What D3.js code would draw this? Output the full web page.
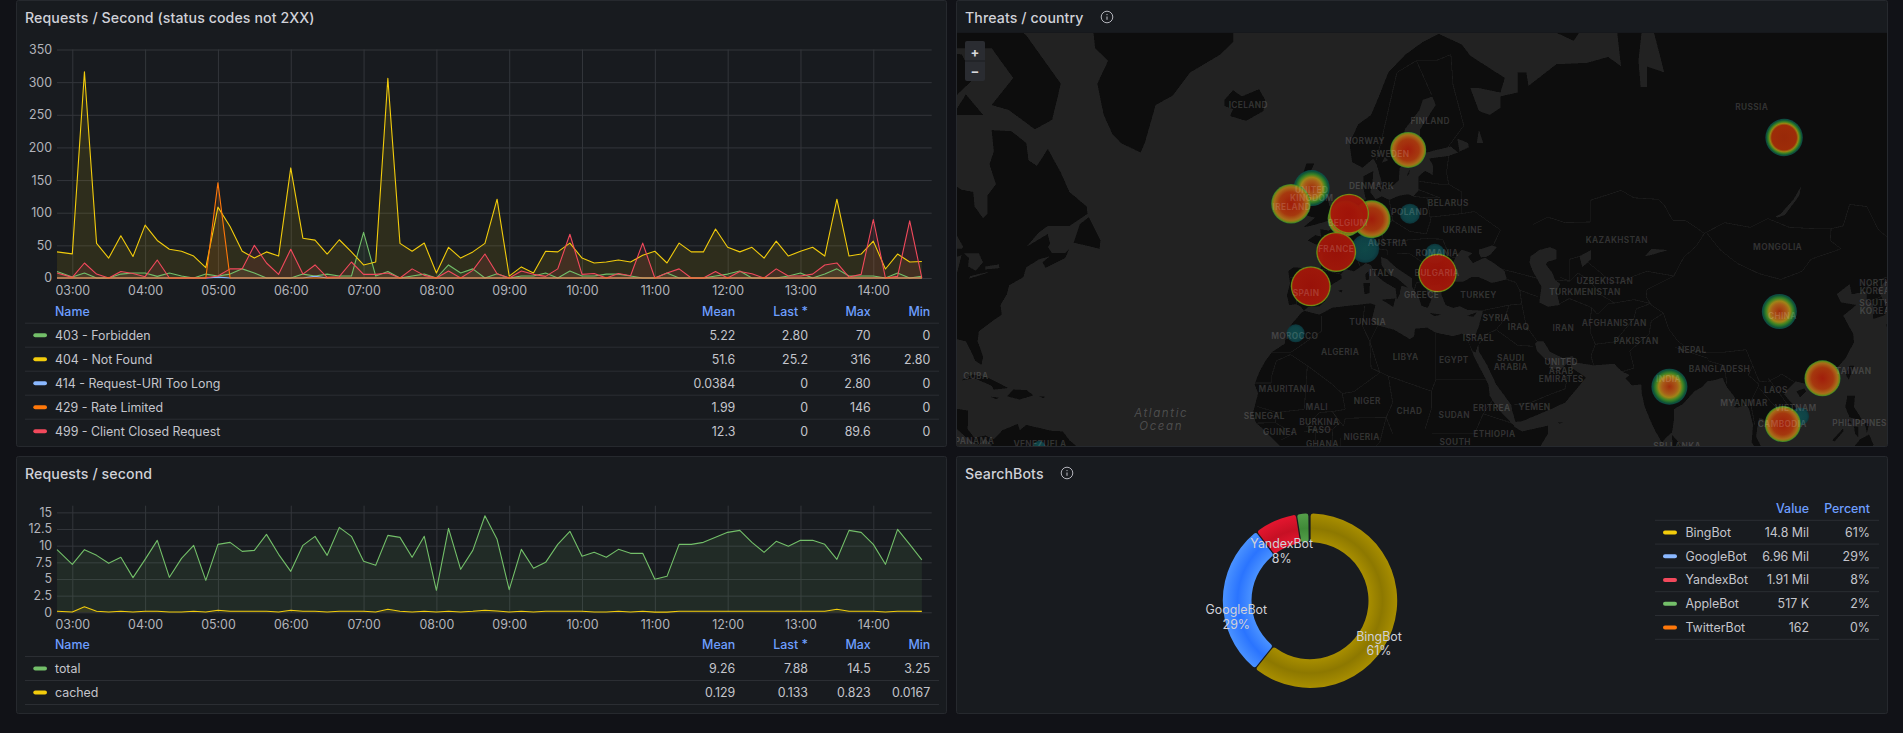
<!DOCTYPE html>
<html>
<head>
<meta charset="utf-8">
<script src="https://cdn.jsdelivr.net/npm/d3@7"></script>
<style>
  html, body { margin: 0; padding: 0; background: #111217; overflow: hidden; }
  svg { display: block; font-family: Inter, "Noto Sans", sans-serif; }
  .title { fill: #d0d1d8; font-size: 14.15px; font-weight: 500; letter-spacing: .1px; }
  .tick text { fill: #b3b4bb; font-size: 12.4px; font-family: Inter, sans-serif; }
  .grid .domain { display: none; }
  .grid line { stroke: #33363b; stroke-width: 1; }
  .lg { fill: #c4c5cc; font-size: 12.4px; }
  .lgh { fill: #6e9fff; font-size: 12.4px; font-weight: 500; }
  .mapl { fill: #fff; fill-opacity: .16; font-size: 8.3px; font-weight: 700; letter-spacing: .35px; text-anchor: middle; }
</style>
</head>
<body>
<svg id="dash" width="1903" height="733"></svg>
<script>
// ---- Requests / Second (status codes not 2XX) ----
var errNames = ["403 - Forbidden", "404 - Not Found", "414 - Request-URI Too Long", "429 - Rate Limited", "499 - Client Closed Request"];
var errColors = ["#73BF69", "#F2CC0C", "#8AB8FF", "#FF780A", "#F2495C"];
var errMean = ["5.22", "51.6", "0.0384", "1.99", "12.3"];
var errLast = ["2.80", "25.2", "0", "0", "0"];
var errMax = ["70", "316", "2.80", "146", "89.6"];
var errMin = ["0", "2.80", "0", "0", "0"];

var s403 = [10,1.5,7.6,0,0,6,7.6,7.6,2.5,7.6,3,0,6,3,6,14,7.6,0,0,0,6,3,6,3,3,70,3,10,0,3,6,0,20,7.6,14,0,6.6,0,3,3,7.6,0,10.7,3,3,6,6,3,0,0,7.6,0,0,0,3,6,10.7,0,0,0,3,7.6,0,6,14,3,3,3,0,7.6,0,2.8];
var s404 = [40,37,316,53,30.5,64.7,33,81,57.5,44,41,33.6,16,108.5,79,41,30.5,40,33.6,168.6,61,58,36.7,58.6,40,20,24.5,306,53,41,53.5,7.6,47,30.5,40,53,120.7,2.8,17,7.6,41,40,53.5,30.5,23,24.5,27.5,24.5,35,41,23,53.5,40,40,75,47,40,47,30.5,56.5,33.6,41,47,33.6,120.7,33.6,36.7,56.5,13.8,36.7,24.5,25.2];
var s414 = [0,0,0,0,0,0,0,0,0,0,0,0,0,1.4,0,0,0,0,0,0,0,2.8,0,0,0,0,0,0,0,0,0,0,0,0,0,0,0,0,0,0,0,0,0,0,0,0,0,0,0,0,0,0,0,0,0,0,0,0,0,0,0,0,0,0,0,0,0,0,0,0,0,0];
var s429 = [0,0,0,0,0,0,0,0,0,0,0,0,0,146,0,0,0,0,0,0,0,0,0,0,0,0,0,0,0,0,0,0,0,0,0,0,0,0,0,0,0,0,0,0,0,0,0,0,0,0,0,0,0,0,0,0,0,0,0,0,0,0,0,0,0,0,0,0,0,0,0,0];
var s499 = [7.6,1,23,6,0,10,7,2,27.5,0,0,0,0,3,14,14,50,23,5.6,44,6,20,1,2,24.5,5.6,5.6,7.6,0,14,4,0,10.7,0,11.7,36.7,6.6,0,10.7,5.6,2.5,14,67,5.6,7,0,7,3.5,53.5,0,7.6,14,0,0,10,0,10,6.6,0,14,3,3,6,20,23,1.5,5.6,89.6,0,2.5,87.6,0];

// ---- Requests / second ----
var reqNames = ["total", "cached"];
var reqColors = ["#73BF69", "#F2CC0C"];
var reqMean = ["9.26", "0.129"];
var reqLast = ["7.88", "0.133"];
var reqMax = ["14.5", "0.823"];
var reqMin = ["3.25", "0.0167"];
var sTotal = [9.4,7.2,9.4,8.55,7.35,8.25,5.2,7.95,10.8,5.25,8.1,10.05,4.8,10.2,10.5,9.15,9.3,11.7,8.7,6.15,10.05,11.4,8.55,12.75,11.4,7.65,7.05,11.55,11.25,8.25,11.4,3.3,12.6,6.45,9.3,14.5,10.95,3.4,9.45,6.6,7.5,10.2,12.15,8.4,9,8.25,9.45,8.85,8.85,4.95,5.4,10.2,10.2,10.5,11.25,12,12.3,10.5,9,10.65,9.9,10.8,10.8,10.2,7.95,12.3,12,10.2,7.2,12.45,10.2,7.88];
var sCached = [.15,.05,.82,.15,.05,.15,.05,.15,.15,.05,.05,.15,.05,.3,.15,.15,.15,.15,.05,.3,.15,.15,.05,.15,.15,.15,.05,.45,.15,.05,.15,.05,.15,.05,.15,.3,.2,.05,.15,.05,.15,.15,.15,.15,.05,.05,.15,.05,.15,.02,.02,.15,.15,.15,.15,.15,.15,.15,.15,.15,.15,.15,.15,.15,.45,.15,.15,.15,.05,.15,.15,.133];

// shared time axis: first sample, then one every ten minutes
var sampleTimes = [new Date(2024, 0, 1, 2, 47, 24)].concat(d3.timeMinute.range(new Date(2024, 0, 1, 3, 0), new Date(2024, 0, 1, 14, 41), 10));
var hourTicks = d3.timeHour.range(new Date(2024, 0, 1, 3), new Date(2024, 0, 1, 15));

// ---- SearchBots ----
var botNames = ["BingBot", "GoogleBot", "YandexBot", "AppleBot", "TwitterBot"];
var botValues = [14800000, 6960000, 1910000, 517000, 162];
var botLabels = ["14.8 Mil", "6.96 Mil", "1.91 Mil", "517 K", "162"];
var botPercents = ["61%", "29%", "8%", "2%", "0%"];
var botLegendColors = ["#F2CC0C", "#8AB8FF", "#F2495C", "#73BF69", "#FF780A"];
var botSliceEdge = ["#a88e00", "#4a92ff", "#e4162f", "#559f49", "#FF780A"];
var botSliceMid = ["#8d7800", "#2a74ff", "#c61024", "#3f8a38", "#FF780A"];

// ---- Threats / country ----
var threatLon = [8.6, 19, -7.5, 24.8, 109.5, -67, 18.6, -3.8, -8.6, 10.1, 4.1, 4.9, 1.9, -4, 25.4, 105.8, 104.7, 79.2, 114.7, 105.5];
var threatLat = [46.7, 52, 31.6, 45.9, 13.9, 7, 60.2, 55.5, 53.4, 51.2, 51.3, 52, 46.2, 40.4, 42.7, 61.6, 35.8, 20.5, 22.3, 12.2];
var threatSize = [14, 10, 9, 10, 9, 6, 18, 18, 19.7, 19, 18, 20, 20, 20, 19.3, 18.7, 17.5, 18, 18, 18];
var threatKind = ["low", "low", "low", "low", "low", "low", "warm", "soft", "warm", "warm", "warm", "hot", "hot", "hot", "hot", "core", "soft", "soft", "warm", "warm"];

var placeNames = ["ICELAND","NORWAY","SWEDEN","FINLAND","DENMARK","UNITED|KINGDOM","IRELAND","POLAND","BELGIUM","BELARUS","UKRAINE","AUSTRIA","FRANCE","ROMANIA","ITALY","BULGARIA","GREECE","SPAIN","TURKEY","TUNISIA","MOROCCO","ALGERIA","LIBYA","EGYPT","ISRAEL","SYRIA","IRAQ","IRAN","SAUDI|ARABIA","UNITED|ARAB|EMIRATES","YEMEN","ERITREA","SUDAN","ETHIOPIA","SOUTH|SUDAN","KAZAKHSTAN","UZBEKISTAN","TURKMENISTAN","AFGHANISTAN","PAKISTAN","NEPAL","BANGLADESH","INDIA","MYANMAR","LAOS","VIETNAM","CAMBODIA","TAIWAN","PHILIPPINES","SRI LANKA","CHINA","MONGOLIA","RUSSIA","NORTH|KOREA","SOUTH|KOREA","MAURITANIA","MALI","NIGER","CHAD","SENEGAL","BURKINA|FASO","GUINEA","NIGERIA","GHANA","CUBA","PANAMA","VENEZUELA"];
var placeLon = [-18.5,8.6,14.4,23.7,10.1,-3.8,-8.4,19,4.6,27.9,31.2,13.8,1.9,25.3,12.5,25.3,21.7,-5.1,34.9,9.2,-7.7,2.8,18,29.2,34.9,39,44.2,54.6,42.4,54.1,47.9,38,29.3,38.6,29.5,67,64.2,59.6,66.4,71.5,84.5,90.8,79,96.5,103.9,108.5,105.4,121.9,123.3,81,105.4,104.3,98.3,126.9,126.9,-9.5,-2.6,9.1,18.9,-14.8,-2,-11.1,7.8,-1.3,-81.7,-82,-66.8];
var placeLat = [65,61.2,59.7,63.4,55.8,54.7,52.9,52.2,50.7,53.5,49.6,47.6,46.7,46,42.7,42.7,38.9,39.2,38.9,33.7,31,27.8,26.8,26.1,30.6,34.5,32.8,32.6,25.6,23.9,16.1,15.7,14.1,9.8,7,48.1,41.3,39.3,33.6,30.1,28.3,24.3,22.2,17,19.8,15.7,12.2,23.9,12.4,7.2,34.9,46.9,64.8,40.3,36.6,20,16.1,17.4,15.2,13.9,11.7,10.3,9.2,7.6,22.8,8.2,7.6];

// coarse coastlines, lon/lat
var landParts = [
  [[-9,37],[-9.5,38.7],[-8.8,41],[-9.2,43],[-8,43.7],[-4,43.4],[-1.8,43.4],[-1.2,44.5],[-1.2,46],[-2.5,47.3],[-4.7,48],[-3,48.8],[-1.6,48.6],[-1.8,49.7],[0.2,49.5],[1.5,50.2],[1.7,51],[3.5,51.5],[4.7,53],[7,53.5],[8.8,54],[8.2,55.5],[8.2,57],[10.5,57.7],[10.3,56.2],[9.8,55],[11,54],[12.5,54.4],[14.2,53.9],[16.5,54.5],[18.6,54.7],[19.8,54.4],[21,55.2],[21,57],[22.5,57.7],[24.3,57.2],[24.4,58.3],[23.5,59.2],[28,59.5],[30.2,59.9],[28.5,60.6],[25,60.2],[22.9,59.9],[21.3,60.8],[21.4,62.5],[25,65],[24.2,65.8],[22,65.5],[21.2,64.5],[17.8,62.5],[17.2,60.8],[18.8,59.8],[16.6,58],[16.4,56.5],[14.3,55.5],[12.9,55.4],[11.3,58.5],[10.5,59.2],[8,58.1],[5.6,58.8],[5,61],[7,63],[10,64],[12,66],[14,68],[18,69.5],[22,70.5],[25.7,71.1],[31,70.3],[33,69.4],[41,67.5],[40,66.2],[35,66.6],[33,66.6],[35,64.4],[37.5,64],[40,64.7],[40,65.8],[44,66.2],[44,68],[46,68],[46.5,66.8],[53,68.7],[60,68.8],[65,69.3],[68,68.5],[67,71.5],[70,73],[73,72],[75,72],[80,73],[110,77],[135,75],[135,43],[130.5,42.3],[127.5,39.8],[129.4,37],[129.3,35.2],[126.5,34.4],[126.5,37],[125,38],[125,39.5],[121.5,39],[121,40.8],[118,39],[119,37.5],[122.5,37],[119.5,35],[121.8,31.5],[122,29.8],[120,26.5],[118,24.5],[114,22.3],[110.5,21.2],[108.5,21.7],[106.7,20],[105.8,18.8],[108.8,15.5],[109.3,12],[106.8,10.4],[105,8.7],[104.8,10],[103,11],[100.9,13.4],[100,13.5],[99.5,11],[99.3,9.3],[100.5,7],[99.7,6],[98.3,8],[98.6,12],[97.7,15.5],[97,16.6],[95,15.9],[94.3,16],[94.5,18],[92.5,20.5],[91.5,22.5],[90,22],[88,21.7],[86.8,20.5],[85,19.5],[82.3,16.7],[80.2,15.5],[80.2,13],[79.8,10.3],[78.2,8.9],[77.5,8],[76,10.5],[74.8,13],[73.5,16],[72.8,19],[72.7,21],[70.5,20.8],[69,22.3],[70,23],[68.3,23.7],[67,24.8],[66.5,25.4],[61.5,25.1],[57.3,25.7],[56.8,27],[54.5,26.6],[51.5,27.9],[50,30],[48.5,30],[48,29.5],[48.5,28],[50.2,26.5],[51.2,26],[51.5,25],[51.2,24.5],[54,24.2],[56,26],[56.5,24.5],[59.8,22.5],[58,20.4],[55,17],[52,15.7],[45,12.8],[43.5,12.7],[42.8,15],[42.5,16.5],[39,21],[37,25],[35,28],[34.9,29.5],[34.2,27.8],[33.6,28],[32.6,29.9],[32.3,31.2],[34.2,31.3],[35,33],[36,36],[32.5,36.1],[30.6,36.8],[29,36.5],[27.3,37],[26.3,39],[26.3,40.2],[26,40.8],[23.8,40.5],[22.8,40.4],[23,39],[24,38],[23.1,36.5],[21.7,36.9],[21,38.5],[19.5,40.3],[19.5,41.8],[16,43.5],[13.7,45],[12.3,45.4],[12.4,44],[14,42.5],[16,41.8],[18.5,40.2],[17,40.5],[16.6,39],[16,38],[15.7,40],[13,41.2],[11,42.5],[10,44],[8.8,44.4],[6,43],[4,43.4],[3,42.5],[3.2,41.8],[0.5,40.5],[-0.3,39.5],[0,38.7],[-0.7,37.7],[-2,36.8],[-4.5,36.7],[-5.6,36],[-6.4,36.8],[-7.4,37.2]],
  [[32.5,30],[33.8,27],[35.5,24],[37.2,21],[37.5,18.5],[39.5,15.5],[43,12],[43.3,11.5],[45,10.5],[51,11.8],[51,10],[48,5],[45,0],[10,0],[9,4],[4.5,6.2],[1,6],[-3,5],[-7.5,4.4],[-10,6],[-13,9],[-15,11],[-16.7,12.5],[-17.4,14.7],[-16.2,19],[-17,21],[-16,23.5],[-14.5,26],[-13,27.8],[-10,29.5],[-9.7,31.5],[-8.5,33.3],[-6,35.7],[-5.3,35.9],[-2,35.2],[1,36.5],[5,36.9],[9.8,37.3],[11,37],[10.2,34.5],[11,33.2],[15.3,32.3],[19,30.4],[20,31],[20.2,32.5],[23,32.7],[25,31.7],[29,31],[31,31.5],[32.3,31.2]],
  [[-95,70],[-85,69.5],[-82,67.5],[-86,66],[-87,64.5],[-93,61],[-94.5,58.8],[-90,57],[-85,55.3],[-82.3,55],[-82,53],[-80,51.3],[-79,52],[-79,54.5],[-77,56],[-78.5,58.5],[-77.5,60],[-78,62.4],[-73.5,62.3],[-70,61],[-69.5,59],[-67.5,58.3],[-65,60.3],[-62,57.5],[-60,55],[-56,53],[-55.8,52],[-60,50.2],[-65,50.2],[-67,49.3],[-70,47],[-65,49],[-64.5,47.5],[-65,47],[-64,46],[-61,46],[-60,46.7],[-61,45.2],[-65.5,43.6],[-66.2,44.5],[-64.5,45.5],[-67,45],[-70,43.7],[-70.7,42],[-74,40.6],[-74.5,39],[-76,37],[-75.7,35.2],[-78,33.9],[-81,32],[-81.3,30],[-80,26.8],[-80.4,25.2],[-81.8,26],[-82.8,28],[-84,30],[-86,30.4],[-90,29.2],[-94,29.5],[-97,28],[-98,22],[-96,19],[-94,18.2],[-91,18.7],[-90.5,21],[-87,21.5],[-88,18],[-88.5,16],[-83.5,15.2],[-83.6,11],[-82,9],[-79.5,9.6],[-77.5,8.7],[-75.5,10.8],[-72,12.2],[-71.5,10.8],[-70,12],[-64,10.6],[-61.5,10.5],[-60,8.5],[-57,6],[-57,0],[-80,0],[-78,7.5],[-79.5,8.8],[-81,7.5],[-83,8.3],[-86,11],[-88,13],[-92,14.5],[-95,16],[-105,20],[-110,25],[-110,75]],
  [[-90,72],[-80,73.5],[-70,71],[-62,67],[-64,63.5],[-68,62.5],[-74,64.5],[-78,65],[-73,67.5],[-78,70],[-88,70]],
  [[-87,64],[-80,64],[-84,66]],
  [[-59,47.7],[-53,46.7],[-52.8,48],[-55.5,51.5],[-57.5,50.5]],
  [[-55,73],[-54,70],[-51,69],[-53.5,67],[-52,64],[-50,62],[-48,61],[-43.5,59.9],[-42.5,61],[-40,65],[-36,65.9],[-32,68],[-25,69.5],[-22,70.5],[-22,73]],
  [[-24,65.5],[-22,66.4],[-20,65.8],[-16,66.5],[-14.6,65.5],[-15,64.4],[-19,63.4],[-22.7,63.9],[-22,64.6],[-24,64.9]],
  [[-5.7,50],[-3.5,50.3],[1.3,51.2],[1.7,52.7],[0.3,53.1],[-0.2,54.3],[-2,55.8],[-3,56],[-2,57.6],[-4,57.7],[-3.2,58.6],[-5,58.6],[-6,57],[-5,55.5],[-3.2,54.9],[-3,53.4],[-4.5,53.2],[-4.2,52.3],[-5.2,51.8],[-3,51.4]],
  [[-6,52.2],[-6,53.5],[-5.5,54.5],[-7,55.3],[-8.5,54.5],[-10,54],[-9.5,53],[-10.2,52],[-8,51.6]],
  [[-85,21.9],[-82.5,23.1],[-79,22.5],[-74.2,20.2],[-77.5,19.9],[-78,20.7],[-82,22.3]],
  [[-74.4,18.4],[-73,19.9],[-69.9,19.7],[-68.4,18.6],[-71.5,17.7]],
  [[-78.3,18.3],[-76.3,18.1],[-77,17.8]],
  [[-67.2,18.4],[-65.7,18.3],[-66,18]],
  [[8.2,41],[9.7,41],[9.6,39.2],[8.5,39]],
  [[8.7,42.5],[9.4,43],[9.5,41.6],[8.8,41.5]],
  [[12.5,38],[15.6,38.2],[15.1,36.7]],
  [[23.6,35.5],[26.3,35.2],[24.7,34.95]],
  [[32.3,35],[34.5,35.6],[33.7,34.8]],
  [[2.4,39.6],[3.4,39.8],[3.1,39.3]],
  [[18.2,57],[19,57.9],[18.8,57.3]],
  [[11,55.7],[12.6,56],[12.2,55]],
  [[51,71.5],[57,70.6],[60,72],[55,72.5]],
  [[79.8,9.7],[81.8,7.5],[81,6],[80,6.5]],
  [[121,25],[122,25],[120.8,22],[120.1,23.2]],
  [[108.7,19.5],[110.5,20.1],[110.9,19.5],[109.5,18.2]],
  [[120.5,18.5],[122.2,18.5],[122,16],[124,13],[121,13.7],[120,16]],
  [[121,13],[121.5,12.3],[120.5,12.5]],
  [[122,11.7],[123,11.5],[123,9.2],[122.3,10]],
  [[124.5,12.5],[125.5,12.2],[125,10.2]],
  [[117,8.5],[119.5,11.2],[119.5,10.5],[117.5,8.2]],
  [[122,7],[123.5,8.7],[125.5,9.8],[126.5,7.5],[126,6],[122,6]],
  [[129.5,33.3],[131,34],[132,33],[131,31],[130,31.5]],
  [[53.4,12.6],[54.5,12.5],[53.6,12.3]]
];

// inland water painted back over the land
var waterParts = [
  [[29,41.2],[31.3,41.2],[33.3,42],[35,42],[38,41],[41.5,41.6],[41,43],[38.5,44.4],[37,45],[36.5,45.3],[35.5,45],[33.6,44.4],[32.5,45.4],[33.5,46],[31,46.6],[29.7,45.5],[28.7,44],[27.9,42.8],[28,41.8]],
  [[35,46],[35,46.6],[38,47.2],[39.2,47],[37.7,45.8],[36.8,45.4],[35.5,45.3]],
  [[27.5,40.7],[29,41],[29,40.5]],
  [[47,45.5],[49,46.5],[51.5,47],[53,46.5],[53,45],[51,44.6],[50.5,44.2],[52,42.8],[52.7,41.5],[53.9,40.8],[53,39.5],[53.8,37],[51,36.7],[49,37.5],[49.5,40.3],[47.5,43],[46.7,44.5]],
  [[58.3,45.5],[61,46.5],[61,45],[59,43.7]],
  [[73.5,45.5],[75,46.7],[79,46.5],[75,45.7]],
  [[103.8,51.6],[105,52],[108,54],[109.8,55.8],[109.3,54.5],[106,51.8],[104.2,51.4]],
  [[30.5,60],[32.7,60.5],[32.5,61],[30,61.5]],
  [[34.5,61],[36,61],[35,62.5]],
  [[12.5,58.7],[14,59],[13.2,59.4]],
  [[73,72],[72,69],[72.5,66.7],[74,66.7],[74,68.5],[78,68],[75,72]],
  [[-79.5,43.3],[-76.2,43.5],[-76.3,44.2],[-79.5,43.8]],
  [[-83.3,41.7],[-79,42.7],[-79,42.9],[-83,42.2]],
  [[-84.5,46],[-81,46],[-80,44.5],[-81.7,43.1],[-83.5,43.8],[-83.3,45.2]],
  [[-92,46.8],[-85,46.7],[-84.6,47],[-86,48.7],[-89,48.2]],
  [[-87.8,42],[-86.3,42],[-85,45.7],[-87.5,45]]
];

var borderLines = [
  [[47.5,50.4],[51,51.5],[55,50.7],[61,50.8],[61,53.9],[68,55.2],[71,54.2],[76.5,54],[77.9,53.3],[80,51],[83,51],[87.3,49.1]],
  [[87.3,49.1],[92,50.7],[98,50],[102,51.3],[107,50],[113,49.8],[116.7,49.8]],
  [[87.8,49.2],[91,46.5],[95,44.3],[100,42.6],[105,41.6],[110,43],[112,45],[119,46.7],[116.5,48],[116.7,49.8]],
  [[116.7,49.8],[119.5,50.2],[121,53.3],[125,53],[127.5,49.8],[131,47.7],[135,48.4]],
  [[87.3,49.1],[85.5,47.2],[82.5,45.3],[80.2,42.2]],
  [[80.2,42.2],[74,39.8],[73.8,38.5],[75,37],[77.8,35.5],[79,32.5],[81,30.2],[84,28],[88,27.8],[92,27.8],[97,28.3],[98.5,25],[100,21.7],[102,21.5],[105.3,23.2],[108,21.6]],
  [[52.8,41.5],[56,41.3],[56,45],[58.5,45.5],[62,43.5],[66,41],[68,41],[71,42.2],[74,43],[80.2,42.2]],
  [[53.8,42],[56,41.3],[58,42.7],[61,41.2],[63,39],[66.5,37.4]],
  [[53.8,37.3],[56,38.2],[61,36.6],[62.5,35.3],[65,37.3],[66.5,37.4],[71,38],[74.8,37.3]],
  [[61.2,36.6],[60.8,34],[61,31.5],[62,29.4],[61,27],[61.6,25.2]],
  [[62,29.4],[66.5,29.9],[69.5,33],[71,34.5],[71.5,36.3],[74.8,37.3]],
  [[68.2,23.7],[71,24.5],[70,28],[74.5,31.5],[75,34],[77.8,35.5]],
  [[48.5,30],[46,33],[45,37],[44.5,39.7],[48.8,38.5]],
  [[36,36],[42,37],[44.8,37.2]],
  [[42,37],[41,34.4],[39,32.3],[37,31.5],[35,29.5]],
  [[39,32.3],[44,29.2],[47.5,29]],
  [[43,16.5],[47,17],[52,19],[55,20],[55.5,22.5],[52,24.2]],
  [[41.5,41.6],[43.5,41.1],[44.5,39.7]],
  [[40,43.4],[44,42.7],[48.5,41.8]],
  [[19.8,54.4],[23,54.2],[23.8,51],[22.8,49],[19,49.4],[15,51],[14.2,53.9]],
  [[7,53.5],[6,51],[8,49],[7.6,47.6],[13,47.5],[12.2,50.3],[15,51]],
  [[-1.8,43.4],[3,42.5]],
  [[-8.8,42],[-6.5,41.7],[-7,39.5],[-7.4,37.2]],
  [[2.5,51],[6,49.5],[8,49],[7.6,47.6],[6,46.2],[7.5,43.8]],
  [[7,45.9],[10.5,46.8],[13.7,46.5],[13.7,45.6]],
  [[13,47.5],[17,48],[22.8,48.3]],
  [[16,46],[19,45.9],[22.5,44.2],[22.8,41.5],[20.5,41],[20,39.7]],
  [[22.5,44.2],[28.6,43.7]],
  [[22.8,41.5],[26.3,41.7],[26,40.8]],
  [[22.8,48.3],[26.6,48.2],[28.2,45.5],[29.7,45.2]],
  [[23.8,51.5],[31,52],[34,52.3],[40,49.6],[38.3,47.2]],
  [[31,52],[31,55],[28,56]],
  [[21,56.4],[26,56],[28,56],[27.5,57.5],[28,59.5]],
  [[21,55.3],[26,54.2],[23,54.2]],
  [[11.2,59],[12.5,61.5],[14,64.5],[16,68],[20.5,69],[25,69],[28.5,69.5]],
  [[20.5,69],[24,66]],
  [[28.5,69.5],[29,66.9],[31.5,62.9],[27.8,60.5]],
  [[-1.5,35],[-1.5,32],[-8.7,27.7],[-13,27.7]],
  [[-17,21.3],[-13,21.3],[-13,23],[-12,26],[-8.7,27.3],[-4.8,25]],
  [[-4.8,25],[-5.5,15.5],[-12,14.8],[-16.5,16.2]],
  [[-4.8,25],[1,21],[3.3,19],[6,19.4],[12,23.5],[9.7,30],[8,33],[8.5,36.9]],
  [[11.5,33],[9.7,30],[10,24.5],[14,22.8],[24,19.5],[25,22],[25,31.7]],
  [[25,22],[36.9,22]],
  [[24,19.5],[24,15.7],[22.5,11]],
  [[14,22.8],[15,17],[13.5,13.7],[15,10]],
  [[3.6,11.7],[4,13.5],[13.5,13.7]],
  [[3.3,19],[4,15.5],[1,15],[3.6,11.7]],
  [[-5.5,10.4],[-2.8,11],[1,11],[2.8,12.5],[1,15],[-2,14.8],[-5,11.5]],
  [[-2.8,11],[-2.9,5.2]],
  [[1,11],[1.2,6.1]],
  [[2.8,9],[2.8,6.4]],
  [[13.5,13.7],[12,8],[8.7,4.6]],
  [[-12,14.8],[-12.2,12.5],[-16.7,12.4]],
  [[-12.2,12.5],[-8,10],[-11,8.5]],
  [[24,10],[34,10],[36,14.5],[38.5,18],[36.9,22]],
  [[36,14.5],[43,12.3]],
  [[98.5,25],[97.5,23],[100,21],[98,17],[99,12]],
  [[102,22.4],[104,20],[107,16],[107.5,14.5],[106,11]],
  [[100,20.3],[102,18],[105.5,14.3],[102.5,12]],
  [[88.2,26],[92,25],[92.5,21]],
  [[80.5,28.8],[88.2,26.5]],
  [[124.5,40],[128,41.5],[130.5,42.3]],
  [[126,37.8],[128.4,38.6]]
];

var svg = d3.select("#dash");
var defs = svg.append("defs");

function panel(x, y, w, h) {
  svg.append("rect").attr("x", x + .5).attr("y", y + .5).attr("width", w - 1).attr("height", h - 1).attr("rx", 2)
    .attr("fill", "#181b1f").attr("stroke", "#26292e");
}

function title(txt, x, y) {
  svg.append("text").attr("class", "title").attr("x", x).attr("y", y).attr("dy", ".35em").text(txt);
}

function infoIcon(x, y) {
  var g = svg.append("g").attr("transform", "translate(" + x + "," + y + ")").attr("stroke", "#b3b4bb").attr("fill", "none");
  g.append("circle").attr("r", 5.8).attr("stroke-width", 1);
  g.append("line").attr("y1", -.5).attr("y2", 2.8).attr("stroke-width", 1.1);
  g.append("circle").attr("cy", -2.4).attr("r", .7).attr("fill", "#b3b4bb").attr("stroke", "none");
}

// time series panel: values drawn through x/y scales, axes give the grid
function timeseries(series, colors, order, yTicks, yDomain, yRange, yTickFormat) {
  var x = d3.scaleTime().domain([hourTicks[0], hourTicks[11]]).range([72.3, 873.3]);
  var y = d3.scaleLinear().domain(yDomain).range(yRange);
  var left = 57, right = 931.7;

  var gy = svg.append("g").attr("class", "grid").attr("transform", "translate(" + left + ",0)")
    .call(d3.axisLeft(y).tickValues(yTicks).tickFormat(yTickFormat).tickSizeInner(-(right - left)).tickSizeOuter(0).tickPadding(5));
  var gx = svg.append("g").attr("class", "grid").attr("transform", "translate(0," + yRange[0] + ")")
    .call(d3.axisBottom(x).tickValues(hourTicks).tickFormat(d3.timeFormat("%H:%M")).tickSizeInner(-(yRange[0] - yRange[1])).tickSizeOuter(0).tickPadding(8));

  var area = d3.area().x(function(d, i) { return x(sampleTimes[i]); }).y0(y(0)).y1(function(d) { return y(d); });
  var line = d3.line().x(function(d, i) { return x(sampleTimes[i]); }).y(function(d) { return y(d); });

  order.forEach(function(k) {
    svg.append("path").attr("d", area(series[k])).attr("fill", colors[k]).attr("fill-opacity", .1);
  });
  order.forEach(function(k) {
    svg.append("path").attr("d", line(series[k])).attr("fill", "none").attr("stroke", colors[k]).attr("stroke-width", 1.1).attr("stroke-linejoin", "round");
  });
}

// legend table under a time series
function statLegend(names, colors, mean, last, max, min, headY, lastRule) {
  var colX = [735.3, 808, 870.7, 930.3];
  svg.append("text").attr("class", "lgh").attr("x", 55).attr("y", headY).attr("dy", ".35em").text("Name");
  ["Mean", "Last *", "Max", "Min"].forEach(function(h, i) {
    svg.append("text").attr("class", "lgh").attr("x", colX[i]).attr("y", headY).attr("dy", ".35em").attr("text-anchor", "end").text(h);
  });
  var top = headY + 11.5;
  var nRules = names.length + (lastRule ? 1 : 0);
  d3.range(nRules).forEach(function(i) {
    svg.append("line").attr("x1", 25).attr("x2", 939).attr("y1", top + i * 24).attr("y2", top + i * 24).attr("stroke", "#2b2e33");
  });
  names.forEach(function(n, i) {
    var cy = top + 12 + i * 24;
    svg.append("rect").attr("x", 33.3).attr("y", cy - 2).attr("width", 13.7).attr("height", 4).attr("rx", 2).attr("fill", colors[i]);
    svg.append("text").attr("class", "lg").attr("x", 55).attr("y", cy).attr("dy", ".35em").text(n);
    [mean[i], last[i], max[i], min[i]].forEach(function(v, c) {
      svg.append("text").attr("class", "lg").attr("x", colX[c]).attr("y", cy).attr("dy", ".35em").attr("text-anchor", "end").text(v);
    });
  });
}

// ---- panels ----
panel(16, 0, 931, 447);
panel(16, 456, 931, 258);
panel(956, 0, 932, 447);
panel(956, 456, 932, 258);

title("Requests / Second (status codes not 2XX)", 25, 18);
timeseries([s403, s404, s414, s429, s499], errColors, [0, 1, 2, 4, 3], [0, 50, 100, 150, 200, 250, 300, 350], [0, 350], [278, 49.5], d3.format("d"));
statLegend(errNames, errColors, errMean, errLast, errMax, errMin, 311.7, false);

title("Requests / second", 25, 474);
timeseries([sTotal, sCached], reqColors, [0, 1], [0, 2.5, 5, 7.5, 10, 12.5, 15], [0, 16], [612.3, 505.7], function(d) { return d; });
statLegend(reqNames, reqColors, reqMean, reqLast, reqMax, reqMin, 645, true);

// ---- map ----
title("Threats / country", 965, 18);
infoIcon(1107, 17);
svg.append("line").attr("x1", 957).attr("x2", 1887).attr("y1", 33).attr("y2", 33).attr("stroke", "#14161a");

defs.append("clipPath").attr("id", "mapclip").append("rect").attr("x", 957).attr("y", 33).attr("width", 930).attr("height", 413);
var blur = defs.append("filter").attr("id", "soft");
blur.append("feGaussianBlur").attr("stdDeviation", .35);

var heatStops = {
  low:  [[0, "#0f4b4b"], [.75, "#0e4448"], [1, "#0c363c"]],
  core: [[0, "#a02a08"], [.66, "#a52e08"], [.76, "#a08a12"], [.84, "#3f8a25"], [.94, "#0f5a3a"], [1, "#0d4a4a"]],
  soft: [[0, "#a8300c"], [.42, "#b0601a"], [.6, "#a88a18"], [.76, "#3f8a25"], [.92, "#0f5a3a"], [1, "#0d4a4a"]],
  warm: [[0, "#a81e0a"], [.6, "#ad3a0e"], [.84, "#b0701a"], [.93, "#7d8a15"], [1, "#2f8a2f"]],
  hot:  [[0, "#a01208"], [.9, "#a5180a"], [.96, "#8a8a10"], [1, "#3f8f20"]]
};
Object.keys(heatStops).forEach(function(k) {
  var g = defs.append("radialGradient").attr("id", "heat-" + k);
  heatStops[k].forEach(function(s) { g.append("stop").attr("offset", s[0]).attr("stop-color", s[1]); });
});

var projection = d3.geoMercator().scale(247).translate([1328, 477]);
var ring = d3.line().curve(d3.curveLinearClosed).x(function(d) { return projection(d)[0]; }).y(function(d) { return projection(d)[1]; });
var trail = d3.line().x(function(d) { return projection(d)[0]; }).y(function(d) { return projection(d)[1]; });

var map = svg.append("g").attr("clip-path", "url(#mapclip)");
var base = map.append("g").attr("filter", "url(#soft)");
base.append("rect").attr("x", 957).attr("y", 33).attr("width", 930).attr("height", 413).attr("fill", "#232323");
base.selectAll(".land").data(landParts).enter().append("path").attr("class", "land").attr("d", ring).attr("fill", "#0a0a0a");
base.selectAll(".water").data(waterParts).enter().append("path").attr("class", "water").attr("d", ring).attr("fill", "#232323");
base.selectAll(".border").data(borderLines).enter().append("path").attr("class", "border").attr("d", trail).attr("fill", "none").attr("stroke", "#242424").attr("stroke-width", .7);

threatLon.forEach(function(lon, i) {
  var p = projection([lon, threatLat[i]]);
  map.append("circle").attr("cx", p[0]).attr("cy", p[1]).attr("r", threatSize[i]).attr("fill", "url(#heat-" + threatKind[i] + ")").attr("fill-opacity", .95);
});

placeNames.forEach(function(n, i) {
  var p = projection([placeLon[i], placeLat[i]]);
  var lines = n.split("|");
  var t = map.append("text").attr("class", "mapl").attr("x", p[0]).attr("y", p[1] - (lines.length - 1) * 4.2).attr("dy", ".35em");
  lines.forEach(function(l, j) {
    t.append("tspan").attr("x", p[0]).attr("dy", j ? 8.4 : ".35em").text(l);
  });
});
var oceanAt = projection([-38.7, 13.3]);
["Atlantic", "Ocean"].forEach(function(w, i) {
  map.append("text").attr("x", oceanAt[0]).attr("y", oceanAt[1] - 6.5 + i * 13).attr("dy", ".35em").attr("text-anchor", "middle")
    .attr("font-size", 11.5).attr("font-style", "italic").attr("letter-spacing", 1.6).attr("fill", "#fff").attr("fill-opacity", .2).text(w);
});

// zoom buttons
var zb = svg.append("g").attr("transform", "translate(965,41)");
zb.append("rect").attr("width", 20).attr("height", 40).attr("rx", 2).attr("fill", "#2a2c31");
zb.append("line").attr("x1", 0).attr("x2", 20).attr("y1", 20).attr("y2", 20).attr("stroke", "#1b1c20");
zb.append("text").attr("x", 10).attr("y", 11).attr("dy", ".35em").attr("text-anchor", "middle").attr("font-size", 13).attr("font-weight", 700).attr("fill", "#d8d9de").text("+");
zb.append("text").attr("x", 10).attr("y", 30).attr("dy", ".35em").attr("text-anchor", "middle").attr("font-size", 13).attr("font-weight", 700).attr("fill", "#d8d9de").text("−");

// ---- donut ----
title("SearchBots", 965, 474);
infoIcon(1067, 473);
var cx = 1310, cy = 600.7;
var pie = d3.pie().sort(null).padAngle(.012)(botValues);
var arc = d3.arc().innerRadius(58.5).outerRadius(87.2).cornerRadius(2.5);
var donut = svg.append("g").attr("transform", "translate(" + cx + "," + cy + ")");
botNames.forEach(function(n, i) {
  var g = defs.append("radialGradient").attr("id", "slice" + i).attr("gradientUnits", "userSpaceOnUse").attr("cx", 0).attr("cy", 0).attr("r", 87.2);
  g.append("stop").attr("offset", .67).attr("stop-color", botSliceEdge[i]);
  g.append("stop").attr("offset", .83).attr("stop-color", botSliceMid[i]);
  g.append("stop").attr("offset", 1).attr("stop-color", botSliceEdge[i]);
});
donut.selectAll("path").data(pie).enter().append("path").attr("d", arc)
  .attr("fill", function(d, i) { return "url(#slice" + i + ")"; });
var labelShift = [[69, 43], [-73.7, 16.3], [-28.3, -49.7]];
labelShift.forEach(function(s, i) {
  [botNames[i], botPercents[i]].forEach(function(txt, j) {
    donut.append("text").attr("x", s[0]).attr("y", s[1] - 7.2 + j * 14.5).attr("dy", ".35em").attr("text-anchor", "middle")
      .attr("fill", "#d0d1d8").attr("font-size", 12.4).text(txt);
  });
});

var botX = [1809, 1870];
["Value", "Percent"].forEach(function(h, i) {
  svg.append("text").attr("class", "lgh").attr("x", botX[i]).attr("y", 509).attr("dy", ".35em").attr("text-anchor", "end").text(h);
});
d3.range(6).forEach(function(i) {
  svg.append("line").attr("x1", 1655).attr("x2", 1879).attr("y1", 520.3 + i * 23.8).attr("y2", 520.3 + i * 23.8).attr("stroke", "#2b2e33");
});
botNames.forEach(function(n, i) {
  var y = 532.4 + i * 23.8;
  svg.append("rect").attr("x", 1663).attr("y", y - 2).attr("width", 14).attr("height", 4).attr("rx", 2).attr("fill", botLegendColors[i]);
  svg.append("text").attr("class", "lg").attr("x", 1685.4).attr("y", y).attr("dy", ".35em").text(n);
  svg.append("text").attr("class", "lg").attr("x", botX[0]).attr("y", y).attr("dy", ".35em").attr("text-anchor", "end").text(botLabels[i]);
  svg.append("text").attr("class", "lg").attr("x", botX[1]).attr("y", y).attr("dy", ".35em").attr("text-anchor", "end").text(botPercents[i]);
});
</script>
</body>
</html>
